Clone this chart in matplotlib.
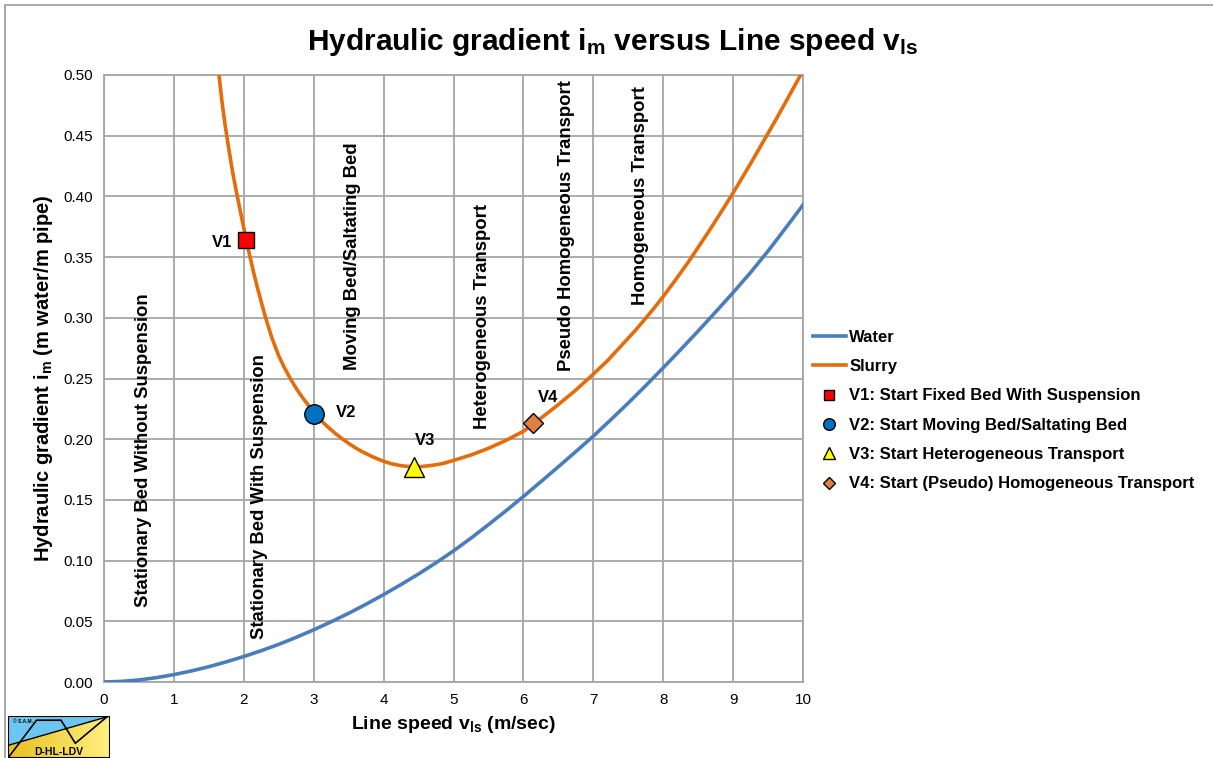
import numpy as np
import matplotlib
matplotlib.use("Agg")
import matplotlib.pyplot as plt
from matplotlib.patches import Rectangle, Polygon

plt.rcParams['font.family'] = ['Liberation Sans', 'DejaVu Sans']
plt.rcParams['mathtext.fontset'] = 'custom'
plt.rcParams['mathtext.rm'] = 'Liberation Sans'
plt.rcParams['mathtext.bf'] = 'Liberation Sans:bold'
plt.rcParams['mathtext.default'] = 'bf'

# Water curve
water_v = [0, 0.25, 0.5, 0.75, 1, 1.25, 1.5, 1.75, 2, 2.25, 2.5, 2.75, 3, 3.25, 3.5, 3.75, 4,
           4.25, 4.5, 4.75, 5, 5.25, 5.5, 5.75, 6, 6.25, 6.5, 6.75, 7, 7.25, 7.5, 7.75, 8,
           8.25, 8.5, 8.75, 9, 9.25, 9.5, 9.75, 10]
water_i = [0, 0.0005, 0.0017, 0.0036, 0.0061, 0.0091, 0.0126, 0.0166, 0.0210, 0.0258, 0.0310,
           0.0368, 0.0430, 0.0496, 0.0566, 0.0641, 0.0720, 0.0803, 0.0890, 0.0982, 0.1080,
           0.1185, 0.1296, 0.1410, 0.1528, 0.1650, 0.1773, 0.1898, 0.2025, 0.2160, 0.2298,
           0.2441, 0.2588, 0.2738, 0.2891, 0.3048, 0.3208, 0.3373, 0.3550, 0.3738, 0.3930]

# Slurry curve
slurry_v = [1.645, 1.69, 1.73, 1.78, 1.84, 1.90, 1.96, 2.03, 2.08, 2.14, 2.2, 2.26, 2.31,
            2.4, 2.5, 2.58, 2.66, 2.75, 2.85, 2.93, 3.01, 3.1, 3.2, 3.3, 3.38, 3.5, 3.6, 3.7,
            3.85, 4.0, 4.1, 4.2, 4.3, 4.43, 4.55, 4.7, 4.85, 5.0, 5.25, 5.5, 5.75, 6.0, 6.14,
            6.3, 6.5, 6.75, 6.98, 7.2, 7.4, 7.6, 7.74, 7.87, 8.0, 8.18, 8.36, 8.5, 8.65, 8.8,
            8.97, 9.1, 9.25, 9.37, 9.49, 9.62, 9.75, 9.87, 10.0]
slurry_i = [0.50, 0.477, 0.460, 0.441, 0.420, 0.402, 0.385, 0.3655, 0.3525, 0.3375, 0.3237,
            0.3108, 0.3005, 0.2838, 0.2686, 0.2590, 0.2505, 0.2418, 0.2335, 0.2275, 0.2215,
            0.2158, 0.2102, 0.2052, 0.2015, 0.1965, 0.1928, 0.1895, 0.1853, 0.1818, 0.1800,
            0.1787, 0.1778, 0.1773, 0.1775, 0.1785, 0.180, 0.1825, 0.187, 0.1925, 0.199, 0.2065,
            0.2125, 0.2195, 0.2285, 0.2405, 0.2525, 0.2645, 0.277, 0.2895, 0.299, 0.308, 0.3175,
            0.3315, 0.346, 0.358, 0.371, 0.3845, 0.400, 0.4125, 0.427, 0.439, 0.451, 0.464,
            0.4775, 0.490, 0.5035]

# Transition points
pts_label = ['V1', 'V2', 'V3', 'V4']
pts_legend = ['V1: Start Fixed Bed With Suspension', 'V2: Start Moving Bed/Saltating Bed',
              'V3: Start Heterogeneous Transport', 'V4: Start (Pseudo) Homogeneous Transport']
pts_v = [2.03, 3.01, 4.43, 6.14]
pts_i = [0.364, 0.221, 0.177, 0.2136]

# Regime texts (x, y centre)
regimes = ['Stationary Bed Without Suspension', 'Stationary Bed With Suspension',
           'Moving Bed/Saltating Bed', 'Heterogeneous Transport',
           'Pseudo Homogeneous Transport', 'Homogeneous Transport']
regime_v = [0.56, 2.23, 3.56, 5.42, 6.61, 7.68]
regime_i = [0.191, 0.153, 0.351, 0.301, 0.376, 0.401]

fig = plt.figure(figsize=(12.13, 7.58), dpi=100)
ax = fig.add_axes([104/1213, 1-682/758, (803-104)/1213, (682-75)/758])

ax.plot(water_v, water_i, color='#4A7EBB', lw=2.6, label='Water', zorder=3,
        solid_joinstyle='round')
ax.plot(slurry_v, slurry_i, color='#E46C0A', lw=2.6, label='Slurry', zorder=3,
        solid_joinstyle='round')

styles = [dict(marker='s', color='#FF0000', ms=12),
          dict(marker='o', color='#0070C0', ms=14),
          dict(marker='^', color='#FFFF00', ms=14),
          dict(marker='D', color='#DD8040', ms=10)]
lab_off = [(-0.34, -0.002), (0.45, 0.0006), (0.16, 0.022), (0.21, 0.021)]
for k in range(4):
    st = styles[k]
    ax.plot(pts_v[k], pts_i[k], ls='none', marker=st['marker'], ms=st['ms'],
            mfc=st['color'], mec='black', mew=1.0, zorder=5, label=pts_legend[k])
    ax.text(pts_v[k] + lab_off[k][0], pts_i[k] + lab_off[k][1], pts_label[k],
            fontsize=12, fontweight='bold', ha='center', va='center', zorder=6)

for t, x, y in zip(regimes, regime_v, regime_i):
    ax.text(x, y, t, rotation=90, fontsize=13.3, fontweight='bold', ha='center', va='center')

ax.set_xlim(0, 10)
ax.set_ylim(0, 0.5)
ax.set_xticks(np.arange(0, 11, 1))
ax.set_yticks(np.arange(0, 0.51, 0.05))
ax.set_yticklabels([f'{v:.2f}' for v in np.arange(0, 0.51, 0.05)])
ax.tick_params(length=0, labelsize=11, pad=8)
ax.grid(True, color='#A6A6A6', lw=1.3)
ax.set_axisbelow(True)
for s in ax.spines.values():
    s.set_color('#A6A6A6')
    s.set_linewidth(1.3)

ax.set_xlabel('Line speed v$_{ls}$ (m/sec)', fontsize=14, fontweight='bold', labelpad=5)
ax.set_ylabel('Hydraulic gradient i$_m$ (m water/m pipe)', fontsize=14.5, fontweight='bold',
              labelpad=6)
fig.text(0.505, 0.945, 'Hydraulic gradient i$_m$ versus Line speed v$_{ls}$',
         ha='center', va='center', fontsize=21.5, fontweight='bold')

fig.legend(loc='upper left', bbox_to_anchor=(806/1213, 1-323/758), frameon=False,
           prop={'weight': 'bold', 'size': 12}, handlelength=2.0, handletextpad=0.2,
           labelspacing=0.86, markerscale=0.6, borderaxespad=0)

# outer chart border
fig.patches.append(Rectangle((5/1213, -0.01), 1.2, 1 - 5/758 + 0.01, transform=fig.transFigure,
                             fill=False, ec='#9A9A9A', lw=1.2))

# logo
lg = fig.add_axes([8/1213, 0, 102/1213, 42/758])
lg.set_xlim(0, 1)
lg.set_ylim(0, 1)
lg.axis('off')
grad = np.linspace(0, 1, 100)[None, :]
lg.imshow(grad, extent=(0, 1, 0, 1), cmap=matplotlib.colors.LinearSegmentedColormap.from_list(
    'y', ['#E8C020', '#FFF080']), aspect='auto', zorder=0)
lg.add_patch(Polygon([(0, 0.3), (0, 1), (1, 1)], closed=True, fc='#6CC6F0', ec='none', zorder=1))
lg.plot([0, 0.28, 0.52, 0.66, 0.98], [0.0, 0.9, 0.9, 0.35, 1.0], color='black', lw=1.2, zorder=3)
lg.plot([0, 1], [0.3, 1], color='black', lw=1, zorder=3)
lg.add_patch(Rectangle((0, 0), 1, 1, fill=False, ec='black', lw=1.5, zorder=4))
lg.text(0.5, 0.15, 'D-HL-LDV', ha='center', va='center', fontsize=7.5, fontweight='bold', zorder=5)
lg.text(0.05, 0.88, '© S.A.M.', ha='left', va='center', fontsize=3.5, fontweight='bold', zorder=5)

fig.savefig('out.png', dpi=100)
